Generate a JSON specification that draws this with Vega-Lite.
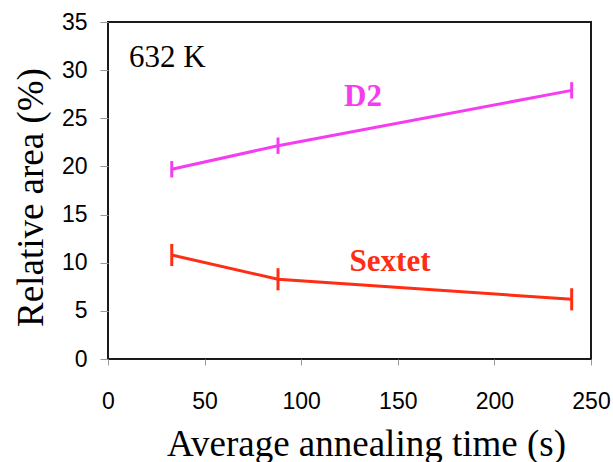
{
  "$schema": "https://vega.github.io/schema/vega-lite/v6.json",
  "width": 483,
  "height": 337,
  "autosize": {"type": "none"},
  "padding": {"left": 108, "top": 22, "right": 22, "bottom": 103},
  "background": "white",
  "config": {
    "view": {"stroke": "#1a1a1a", "strokeWidth": 2}
  },
  "datasets": {
    "pts": [
      {"series": "D2", "time": 33, "area": 19.7, "lo": 18.85, "hi": 20.55},
      {"series": "D2", "time": 88, "area": 22.15, "lo": 21.3, "hi": 23.0},
      {"series": "D2", "time": 240, "area": 27.9, "lo": 27.05, "hi": 28.75},
      {"series": "Sextet", "time": 33, "area": 10.8, "lo": 9.65, "hi": 11.95},
      {"series": "Sextet", "time": 88, "area": 8.28, "lo": 7.13, "hi": 9.43},
      {"series": "Sextet", "time": 240, "area": 6.2, "lo": 5.05, "hi": 7.35}
    ],
    "temp": [{"label": "632 K", "time": 10.9, "area": 30.3}],
    "names": [
      {"series": "D2", "time": 132, "area": 27.2},
      {"series": "Sextet", "time": 146, "area": 10.1}
    ]
  },
  "encoding": {
    "x": {
      "field": "time",
      "type": "quantitative",
      "scale": {"domain": [0, 250], "nice": false, "zero": false},
      "axis": {
        "values": [0, 50, 100, 150, 200, 250],
        "title": "Average annealing time (s)",
        "titleFont": "Liberation Serif",
        "titleFontSize": 37,
        "titleFontWeight": "normal",
        "titleColor": "black",
        "titleX": 258,
        "titleY": 96,
        "titleAlign": "center",
        "titleBaseline": "alphabetic",
        "labelFont": "Liberation Sans",
        "labelFontSize": 23,
        "labelColor": "black",
        "labelFlush": false,
        "labelOverlap": false,
        "labelPadding": 25,
        "tickColor": "#999999",
        "tickSize": 6,
        "tickWidth": 1,
        "domain": false,
        "grid": false
      }
    },
    "y": {
      "field": "area",
      "type": "quantitative",
      "scale": {"domain": [0, 35], "nice": false, "zero": false},
      "axis": {
        "values": [0, 5, 10, 15, 20, 25, 30, 35],
        "title": "Relative area (%)",
        "titleFont": "Liberation Serif",
        "titleFontSize": 37,
        "titleFontWeight": "normal",
        "titleColor": "black",
        "titleAngle": -90,
        "titleX": -66,
        "titleY": 175,
        "titleAlign": "center",
        "titleBaseline": "alphabetic",
        "labelFont": "Liberation Sans",
        "labelFontSize": 23,
        "labelColor": "black",
        "labelFlush": false,
        "labelOverlap": false,
        "labelPadding": 13,
        "tickColor": "#999999",
        "tickSize": 8,
        "tickWidth": 1,
        "domain": false,
        "grid": false
      }
    }
  },
  "layer": [
    {
      "data": {"name": "pts"},
      "mark": {"type": "line", "strokeWidth": 3},
      "encoding": {
        "color": {
          "field": "series",
          "type": "nominal",
          "scale": {"domain": ["D2", "Sextet"], "range": ["#F53CF0", "#FF2D14"]},
          "legend": null
        }
      }
    },
    {
      "data": {"name": "pts"},
      "mark": {"type": "rule", "strokeWidth": 3},
      "encoding": {
        "y": {"field": "lo", "type": "quantitative"},
        "y2": {"field": "hi"},
        "color": {"field": "series", "type": "nominal", "legend": null}
      }
    },
    {
      "data": {"name": "temp"},
      "mark": {"type": "text", "font": "Liberation Serif", "fontSize": 31, "align": "left", "baseline": "alphabetic", "color": "black"},
      "encoding": {"text": {"field": "label"}}
    },
    {
      "data": {"name": "names"},
      "mark": {"type": "text", "font": "Liberation Serif", "fontSize": 31, "fontWeight": "bold", "align": "center", "baseline": "middle"},
      "encoding": {
        "text": {"field": "series"},
        "color": {"field": "series", "type": "nominal", "legend": null}
      }
    }
  ]
}
